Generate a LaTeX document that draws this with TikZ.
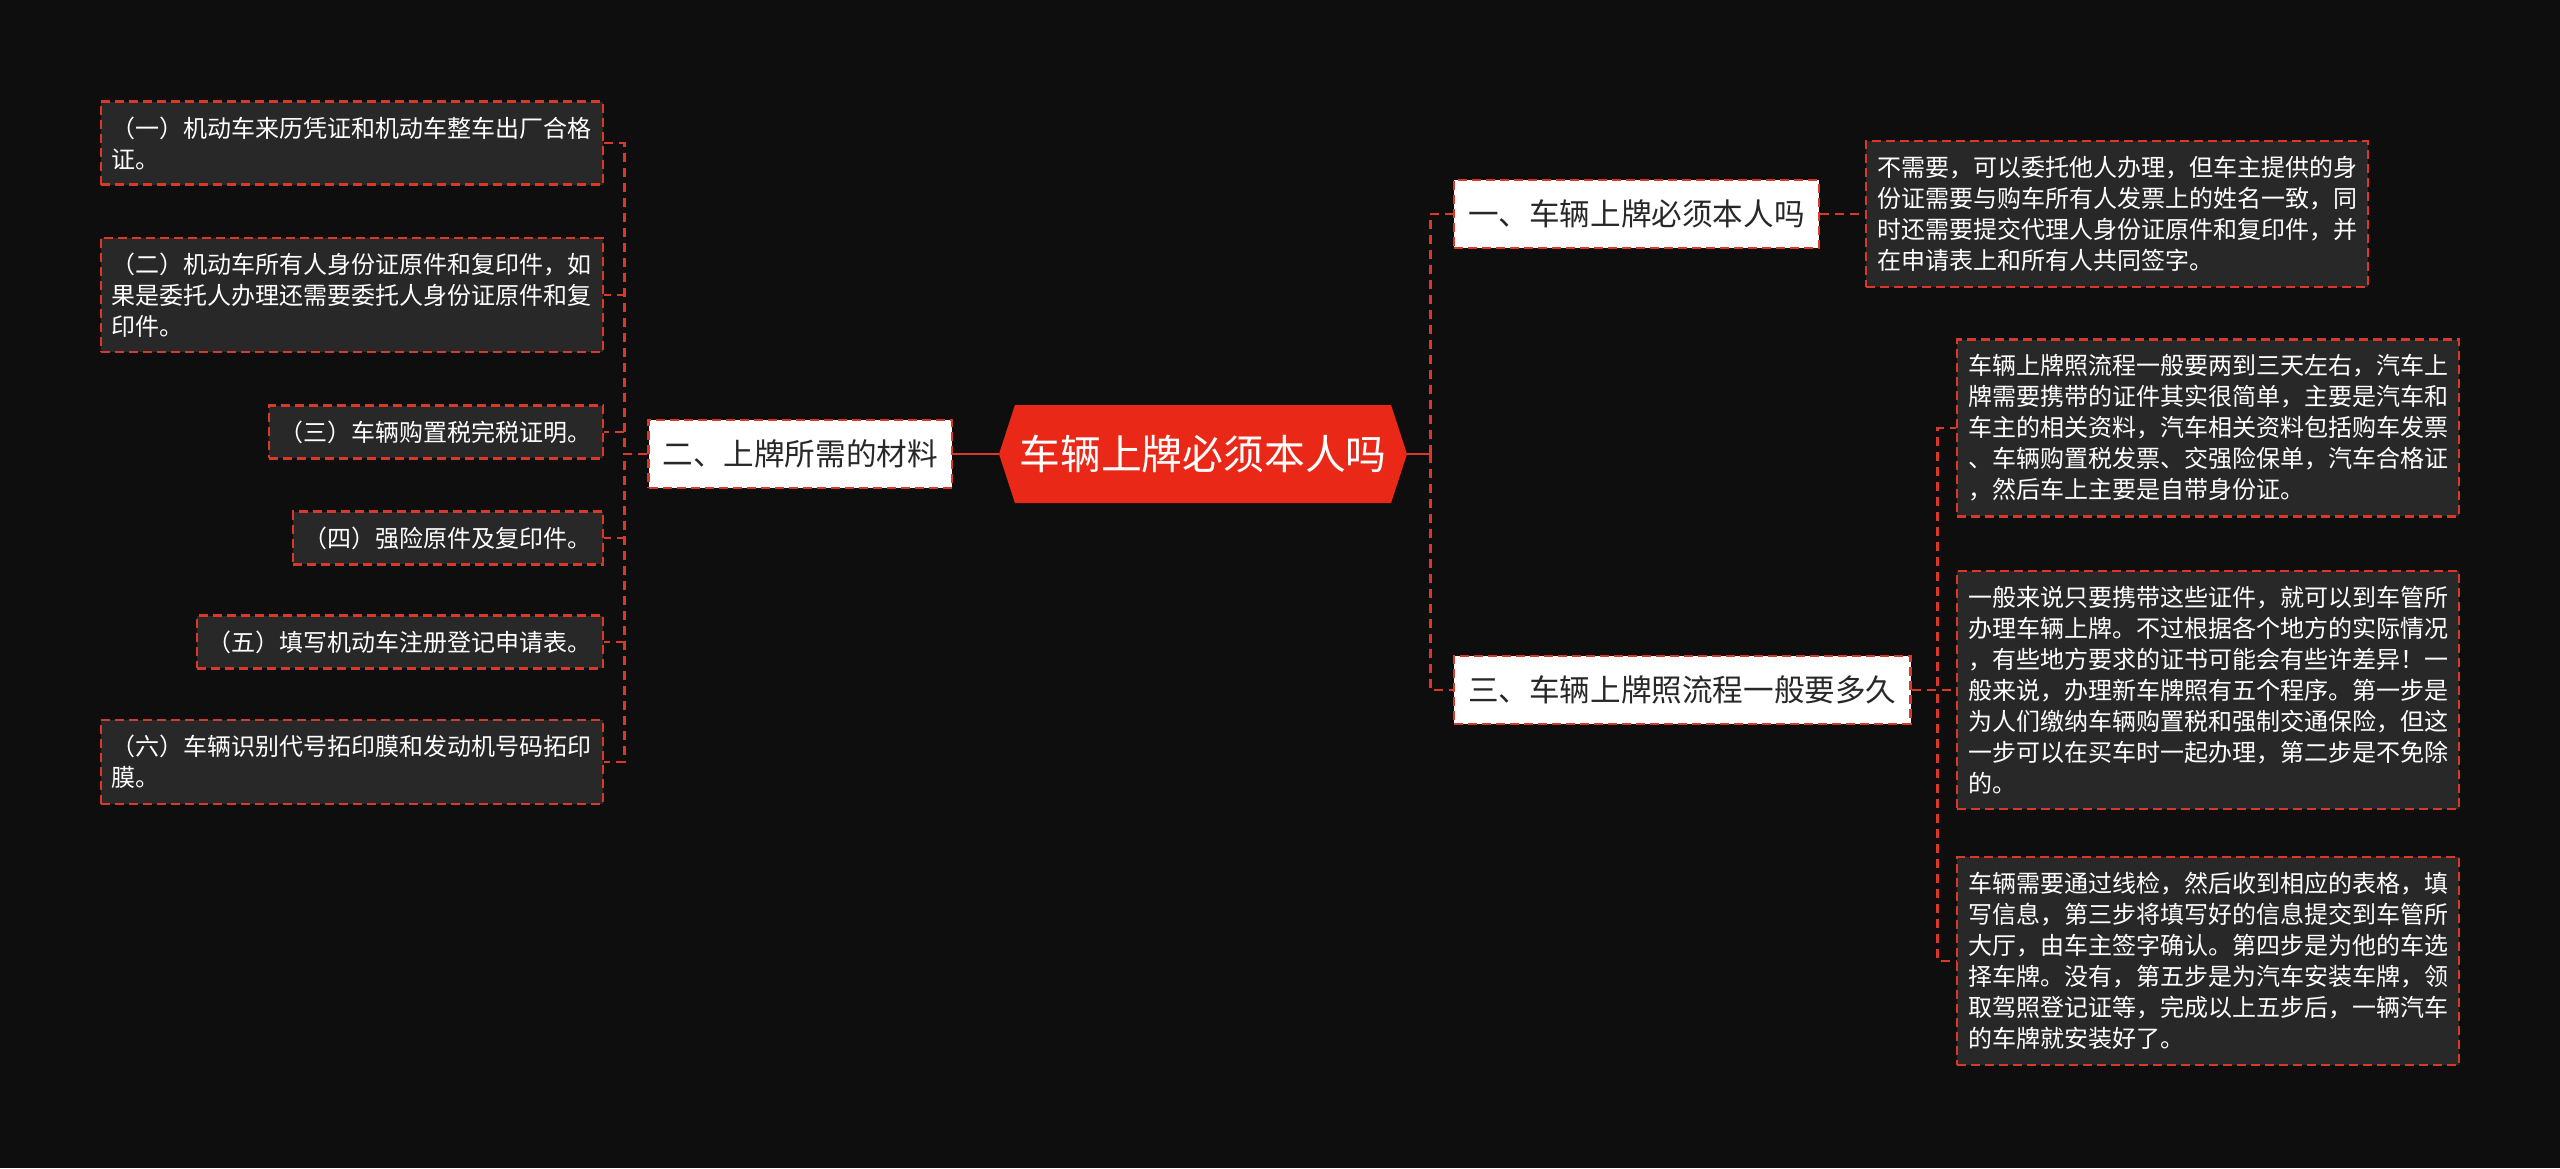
\documentclass[tikz,border=0pt]{standalone}
\usepackage{fontspec}
\setmainfont{Noto Sans CJK SC}
\usepackage{tikz}
\usetikzlibrary{shapes.symbols}

\definecolor{bgdark}{RGB}{14,14,14}
\definecolor{leafgray}{RGB}{40,40,40}
\definecolor{linered}{RGB}{218,56,40}
\definecolor{rootred}{RGB}{234,40,24}
\definecolor{titletext}{RGB}{40,40,40}

\begin{document}
\begin{tikzpicture}[x=0.5pt, y=-0.5pt,
        link/.style={linered, line width=1.2pt, dash pattern=on 4.5pt off 3pt},
        rootlink/.style={linered, line width=1.3pt},
        rootnode/.style={signal, signal to=west and east, signal pointer angle=144, fill=rootred, text=white, font=\fontsize{20.4}{24}\selectfont, minimum width=204pt, minimum height=49pt, inner sep=0pt},
        branch/.style={fill=white, draw=linered, line width=1.1pt, dash pattern=on 4.5pt off 2.5pt, text=titletext, font=\fontsize{15.3}{18}\selectfont, inner xsep=7pt, minimum height=34pt},
        leaf/.style={fill=leafgray, draw=linered, line width=1.1pt, dash pattern=on 4.5pt off 2.5pt, text=white, font=\fontsize{12}{15.5}\selectfont, align=left, inner xsep=5.5pt, inner ysep=7.5pt}]
        \fill[bgdark] (0,0) rectangle (2560,1168);
        \useasboundingbox (0,0) rectangle (2560,1168);

        \node[rootnode] (root) at (1203,454) {车辆上牌必须本人吗};
        \node[branch, anchor=east] (mat) at (953,454) {二、上牌所需的材料};
        \node[branch, anchor=west] (need) at (1453,214) {一、车辆上牌必须本人吗};
        \node[branch, anchor=west] (flow) at (1453,690) {三、车辆上牌照流程一般要多久};

        % materials
        \node[leaf, anchor=east] (mat1) at (604,143) {（一）机动车来历凭证和机动车整车出厂合格\\证。};
        \node[leaf, anchor=east] (mat2) at (604,295) {（二）机动车所有人身份证原件和复印件，如\\果是委托人办理还需要委托人身份证原件和复\\印件。};
        \node[leaf, anchor=east] (mat3) at (604,432) {（三）车辆购置税完税证明。};
        \node[leaf, anchor=east] (mat4) at (604,538) {（四）强险原件及复印件。};
        \node[leaf, anchor=east] (mat5) at (604,642) {（五）填写机动车注册登记申请表。};
        \node[leaf, anchor=east] (mat6) at (604,762) {（六）车辆识别代号拓印膜和发动机号码拓印\\膜。};

        % answers
        \node[leaf, anchor=west] (needinfo) at (1865,214) {不需要，可以委托他人办理，但车主提供的身\\份证需要与购车所有人发票上的姓名一致，同\\时还需要提交代理人身份证原件和复印件，并\\在申请表上和所有人共同签字。};
        \node[leaf, anchor=west] (flow1) at (1956,428) {车辆上牌照流程一般要两到三天左右，汽车上\\牌需要携带的证件其实很简单，主要是汽车和\\车主的相关资料，汽车相关资料包括购车发票\\、车辆购置税发票、交强险保单，汽车合格证\\，然后车上主要是自带身份证。};
        \node[leaf, anchor=west] (flow2) at (1956,690) {一般来说只要携带这些证件，就可以到车管所\\办理车辆上牌。不过根据各个地方的实际情况\\，有些地方要求的证书可能会有些许差异！一\\般来说，办理新车牌照有五个程序。第一步是\\为人们缴纳车辆购置税和强制交通保险，但这\\一步可以在买车时一起办理，第二步是不免除\\的。};
        \node[leaf, anchor=west] (flow3) at (1956,961) {车辆需要通过线检，然后收到相应的表格，填\\写信息，第三步将填写好的信息提交到车管所\\大厅，由车主签字确认。第四步是为他的车选\\择车牌。没有，第五步是为汽车安装车牌，领\\取驾照登记证等，完成以上五步后，一辆汽车\\的车牌就安装好了。};

        \coordinate (lspine) at ([xshift=-11.5pt]mat.west);
        \coordinate (rspine) at ([xshift=11.5pt]root.east);
        \coordinate (fspine) at ([xshift=13pt]flow.east);

        \draw[rootlink] (root.west) -- (mat.east);
        \draw[rootlink] (root.east) -- (rspine);
        \foreach \n in {1,...,6}
            \draw[link] (mat.west) -- (lspine) |- (mat\n.east);
        \draw[link] (rspine) |- (need.west);
        \draw[link] (rspine) |- (flow.west);
        \draw[link] (need.east) -- (needinfo.west);
        \foreach \n in {1,2,3}
            \draw[link] (flow.east) -- (fspine) |- (flow\n.west);
\end{tikzpicture}
\end{document}
